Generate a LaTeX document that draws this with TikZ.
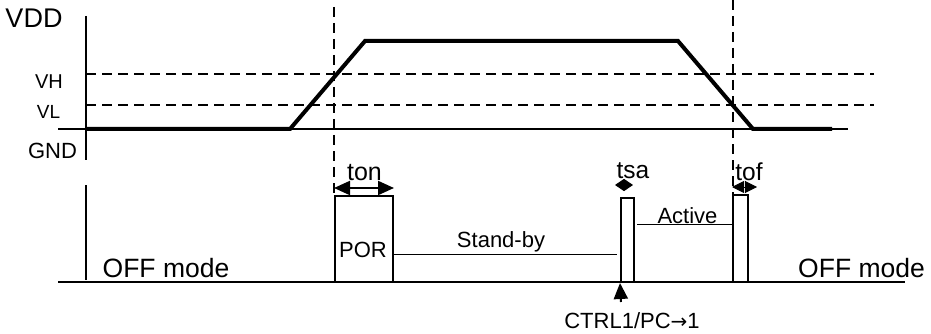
\documentclass[tikz,border=0pt]{standalone}
\usepackage{fontspec}
\setmainfont{Liberation Sans}
\newfontfamily\symfont{DejaVu Sans}
\usetikzlibrary{positioning,arrows.meta}

\begin{document}
\begin{tikzpicture}[
    x=1pt, y=-1pt,
    lbl/.style={
        anchor=base,
        inner sep=0pt,
        font=\fontsize{#1}{#1}\selectfont
    },
    axis/.style={
        line width=2pt
    },
    level/.style={
        line width=2pt,
        dash pattern=on 10pt off 6pt
    },
    signal/.style={
        line width=4pt,
        line join=miter
    },
    slot/.style={
        rectangle,
        draw,
        line width=2pt,
        inner sep=0pt
    },
    span/.style={
        {Triangle[length=16pt,width=14pt]}-{Triangle[length=16pt,width=14pt]},
        line width=2pt
    },
    tip/.style={
        -{Triangle[length=#1,width=12pt]},
        line width=1pt
    },
    arrow/.style={
        -{Triangle[length=16pt,width=14pt]},
        line width=2pt
    }
]

\useasboundingbox (0,0) rectangle (931,334);

% supply voltage
\node[lbl=27] (vdd) at (34,28) {VDD};
\node[lbl=20] (vh) at (49,89) {VH};
\node[lbl=19] (vl) at (48.5,118) {VL};
\node[lbl=22] (gnd) at (52.5,158) {GND};

\draw[axis] (86,16) -- (86,160);
\draw[axis] (58,129) -- (848,129);
\draw[level] (86,74) -- (874,74);
\draw[level] (86,105) -- (874,105);
\draw[level] (334,7) -- (334,195);
\draw[level] (733,0) -- (733,195);

\draw[signal] (86,129) -- (290,129) -- (365,41) -- (678,41)
    -- (753,129) -- (832,129);

% modes
\draw[axis] (86,185) -- (86,280);
\draw[line width=2.5pt] (58,282) -- (905,282);

\node[slot, minimum width=58, minimum height=86] (por) at (364,239) {};
\node[slot, minimum width=13, minimum height=84] (tsabox) at (627.5,240) {};
\node[slot, minimum width=15, minimum height=87] (tofbox) at (740.5,238.5) {};

\node[lbl=22] (porlbl) at (363,257) {POR};
\node[lbl=22] (standby) at (501,247) {Stand-by};
\node[lbl=22] (active) at (687.5,223) {Active};
\node[lbl=26.5] (offl) at (166,277) {OFF mode};
\node[lbl=26.5] (offr) at (861.5,277) {OFF mode};

\coordinate (sbend) at (617,254);
\coordinate (acstart) at (637,224);
\draw[line width=1pt] (por.east |- sbend) -- (sbend);
\draw[line width=1pt] (acstart) -- (tofbox.west |- acstart);

% timings
\node[lbl=25] (ton) at (364.5,180) {ton};
\node[lbl=24.5] (tsa) at (633,178) {tsa};
\node[lbl=24.5] (tof) at (749,180) {tof};

\draw[span] ([yshift=7pt]por.north west) -- ([yshift=7pt]por.north east);
\coordinate (tsamid) at (624,185);
\coordinate (tsaa) at (615,185);
\coordinate (tsab) at (633,185);
\draw[tip=9pt] (tsamid) -- (tsaa);
\draw[tip=9pt] (tsamid) -- (tsab);
\coordinate (tofmid) at (744.5,187);
\coordinate (tofa) at (732,187);
\coordinate (tofb) at (757,187);
\draw[tip=12pt] (tofmid) -- (tofa);
\draw[tip=12pt] (tofmid) -- (tofb);

\node[lbl=22] (ctrl) at (632,328) {CTRL1/PC{\symfont\fontsize{20}{20}\selectfont→}1};
\coordinate (pc) at (621,302);
\draw[arrow] (pc) -- (tsabox.south west);

\end{tikzpicture}
\end{document}
